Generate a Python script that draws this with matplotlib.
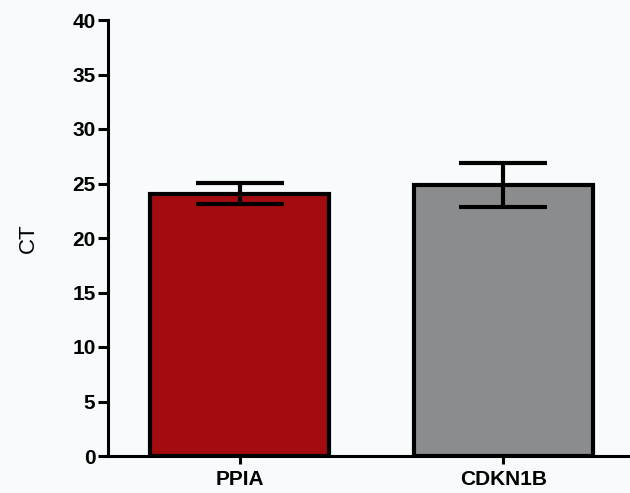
import numpy as np
import matplotlib.pyplot as plt

plt.rcParams['font.family'] = ['Liberation Sans', 'DejaVu Sans']

genes = ['PPIA', 'CDKN1B']
ct_mean = [24.05, 24.85]
ct_err = [0.97, 2.03]
bar_colors = ['#a30b0f', '#8b8c8e']
yticks = [0, 5, 10, 15, 20, 25, 30, 35, 40]

fig = plt.figure(figsize=(6.3, 4.93), dpi=100)
fig.patch.set_facecolor('#f7fbfc')
ax = fig.add_axes([108/630, 37/493, 522/630, 436/493])
ax.set_facecolor('#f7fbfc')

x = np.arange(len(genes))
ax.bar(x, ct_mean, width=0.68, color=bar_colors, edgecolor='black', linewidth=3, zorder=2)
ax.errorbar(x, ct_mean, yerr=ct_err, fmt='none', ecolor='black', elinewidth=3,
            capsize=32, capthick=3, zorder=3)

ax.set_xlim(-0.5, 1.48)
ax.set_ylim(0, 40)
ax.set_yticks(yticks)
ax.set_xticks(x)
ax.set_xticklabels(genes, fontsize=15, fontweight='bold')
for lbl in ax.get_yticklabels():
    lbl.set_fontsize(15)
    lbl.set_fontweight('bold')
ax.set_ylabel('CT', fontsize=16, labelpad=24)

for s in ['top', 'right']:
    ax.spines[s].set_visible(False)
for s in ['left', 'bottom']:
    ax.spines[s].set_linewidth(2.2)
ax.tick_params(axis='y', length=7, width=2.2, pad=2)
ax.tick_params(axis='x', length=6, width=2.2, pad=4)

fig.savefig('out.png', dpi=100, facecolor=fig.get_facecolor())
